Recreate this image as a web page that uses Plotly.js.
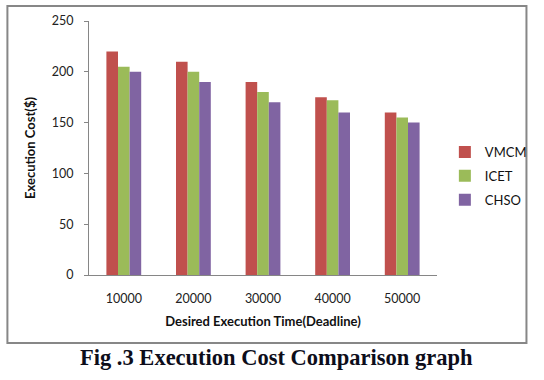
<!DOCTYPE html>
<html>
<head>
<meta charset="utf-8">
<script src="https://cdn.plot.ly/plotly-3.0.1.min.js"></script>
<style>
  html, body { margin: 0; padding: 0; background: #fff; }
  #chart { width: 544px; height: 380px; }
</style>
</head>
<body>
<div id="chart"></div>
<script>
const categories = ["10000", "20000", "30000", "40000", "50000"];
const seriesNames = ["VMCM", "ICET", "CHSO"];
const vmcm = [220, 210, 190, 175, 160];
const icet = [205, 200, 180, 172, 155];
const chso = [200, 190, 170, 160, 150];
const yTicks = [0, 50, 100, 150, 200, 250];
const colors = ["#C0504D", "#9BBB59", "#8064A2"];

const values = [vmcm, icet, chso];
const traces = values.map((v, i) => ({
  type: "bar",
  name: seriesNames[i],
  x: categories,
  y: v,
  marker: { color: colors[i] },
  legendgroup: "g" + i,
  hoverinfo: "x+y+name"
}));

const font = "Lato, 'Liberation Sans', Arial, sans-serif";

const layout = {
  width: 544,
  height: 380,
  paper_bgcolor: "#ffffff",
  plot_bgcolor: "#ffffff",
  margin: { l: 89, r: 101, t: 21, b: 105 },
  barmode: "group",
  bargap: 0.5,
  bargroupgap: 0,
  font: { family: font, size: 12, color: "#222" },
  xaxis: {
    type: "category",
    showline: true,
    linecolor: "#868686",
    linewidth: 1,
    ticks: "",
    showgrid: false,
    zeroline: false,
    ticklabelstandoff: 12,
    tickfont: { family: font, size: 12.5, color: "#222" },
    title: {
      text: "Desired Execution Time(Deadline)",
      font: { family: font, size: 13, color: "#111", weight: "bold" },
      standoff: 11
    }
  },
  yaxis: {
    range: [0, 250],
    tickvals: yTicks,
    showline: true,
    linecolor: "#868686",
    linewidth: 1,
    ticks: "outside",
    ticklen: 4,
    tickcolor: "#868686",
    showgrid: false,
    zeroline: false,
    ticklabelstandoff: 8,
    tickfont: { family: font, size: 12.5, color: "#222" },
    title: {
      text: "Execution Cost($)",
      font: { family: font, size: 13, color: "#111", weight: "bold" },
      standoff: 13
    }
  },
  legend: {
    font: { family: font, size: 13, color: "#111" },
    tracegroupgap: 4,
    bgcolor: "rgba(0,0,0,0)",
    xanchor: "left",
    yanchor: "top"
  },
  showlegend: true,
  shapes: [{
    type: "rect",
    xref: "paper", yref: "paper",
    x0: (6 - 89) / 354, x1: (534 - 89) / 354,
    y0: (275 - 343) / 254, y1: (275 - 6) / 254,
    line: { color: "#878787", width: 2 },
    fillcolor: "rgba(0,0,0,0)",
    layer: "below"
  }],
  annotations: [{
    text: "Fig .3 Execution Cost Comparison graph",
    xref: "paper", yref: "paper",
    x: (280 - 89) / 354, y: (275 - 358) / 254,
    xanchor: "center", yanchor: "middle",
    showarrow: false,
    font: { family: "'Liberation Serif', 'Times New Roman', serif", size: 22.5, color: "#0d0d1a", weight: "bold" }
  }]
};
layout.legend.x = (451 - 89) / 354;
layout.legend.y = (275 - 137) / 254;

Plotly.newPlot("chart", traces, layout, { displayModeBar: false, staticPlot: true });
</script>
</body>
</html>
